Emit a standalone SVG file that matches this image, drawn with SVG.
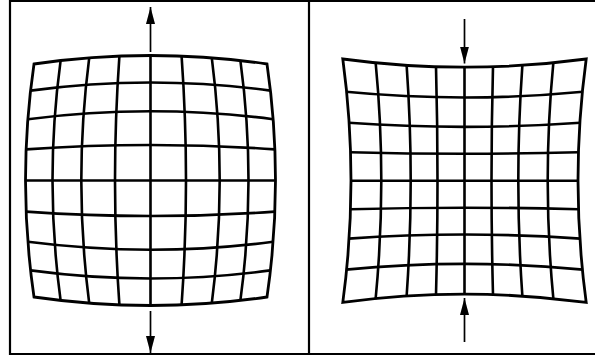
<svg xmlns="http://www.w3.org/2000/svg" width="595" height="358" viewBox="0 0 595 358">
<style>
.frame{fill:none;stroke:#000;stroke-width:2.2}
.grid path{fill:none;stroke:#000;stroke-width:2.6;stroke-linejoin:miter}
.grid .edge{stroke-width:2.8}
.arrow{fill:none;stroke:#000;stroke-width:1.7;marker-end:url(#ah)}
</style>
<defs>
<marker id="ah" markerUnits="userSpaceOnUse" viewBox="0 0 17 10" refX="17" refY="5" markerWidth="17" markerHeight="10" orient="auto">
<path d="M0,0.5 L17,5 L0,9.5 Z" fill="#000"/>
</marker>
</defs>
<rect width="595" height="358" fill="#fff"/>
<g id="frame" class="frame">
<path d="M10,1 H595 M10,354 H595 M10,0 V355 M309,1 V354"/>
</g>
<g id="barrel-grid" class="grid" transform="translate(150.5,180.5)">
<path class="edge" d="M-116.5,-116.5 Q0,-133.5 116.5,-116.5 Q133.5,0 116.5,116.5 Q0,133.5 -116.5,116.5 Q-133.5,0 -116.5,-116.5 Z"/>
<path d="M-125,0 H125 M-124.4,-31.1 Q0,-39.9 124.4,-31.1 M-124.4,31.1 Q0,39.9 124.4,31.1 M-122.6,-61.3 Q0,-77.1 122.6,-61.3 M-122.6,61.3 Q0,77.1 122.6,61.3 M-119.9,-89.9 Q0,-106.1 119.9,-89.9 M-119.9,89.9 Q0,106.1 119.9,89.9"/>
<path d="M0,-125 V125 M-31.1,-124.4 Q-39.9,0 -31.1,124.4 M31.1,-124.4 Q39.9,0 31.1,124.4 M-61.3,-122.6 Q-77.1,0 -61.3,122.6 M61.3,-122.6 Q77.1,0 61.3,122.6 M-89.9,-119.9 Q-106.1,0 -89.9,119.9 M89.9,-119.9 Q106.1,0 89.9,119.9"/>
</g>
<g id="pincushion-grid" class="grid" transform="translate(464.5,180.7)">
<path class="edge" d="M-121.7,-121.7 Q0,-105.3 121.7,-121.7 Q105.3,0 121.7,121.7 Q0,105.3 -121.7,121.7 Q-105.3,0 -121.7,-121.7 Z"/>
<path d="M-113.5,0 H113.5 M-114.1,-28.5 Q0,-25.5 114.1,-28.5 M-114.1,28.5 Q0,25.5 114.1,28.5 M-115.8,-57.9 Q0,-49.7 115.8,-57.9 M-115.8,57.9 Q0,49.7 115.8,57.9 M-118.5,-88.9 Q0,-77.5 118.5,-88.9 M-118.5,88.9 Q0,77.5 118.5,88.9"/>
<path d="M0,-113.5 V113.5 M-28.5,-114.1 Q-25.5,0 -28.5,114.1 M28.5,-114.1 Q25.5,0 28.5,114.1 M-57.9,-115.8 Q-49.7,0 -57.9,115.8 M57.9,-115.8 Q49.7,0 57.9,115.8 M-88.9,-118.5 Q-77.5,0 -88.9,118.5 M88.9,-118.5 Q77.5,0 88.9,118.5"/>
</g>
<g id="connectors">
<path class="arrow" d="M150.5,52 V7"/>
<path class="arrow" d="M150.5,311 V353"/>
<path class="arrow" d="M464.5,19 V63.5"/>
<path class="arrow" d="M464.5,342 V298"/>
</g>
</svg>
